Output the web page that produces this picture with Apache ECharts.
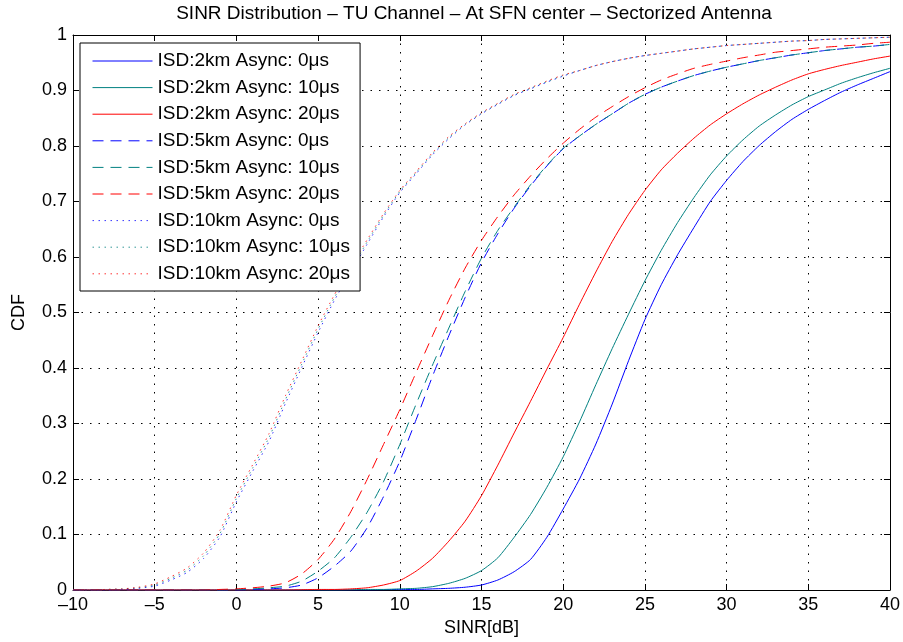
<!DOCTYPE html>
<html><head><meta charset="utf-8">
<script src="https://cdn.jsdelivr.net/npm/echarts@6/dist/echarts.min.js"></script>
<style>html,body{margin:0;padding:0;background:#fff}#c{width:903px;height:642px}</style>
</head><body><div id="c"></div>
<script>
// SINR grid (dB)
const sinr = [-10,-9,-8,-7,-6,-5,-4,-3,-2,-1,0,1,2,3,4,5,6,7,8,9,10,11,12,13,14,15,16,17,18,19,20,21,22,23,24,25,26,27,28,29,30,31,32,33,34,35,36,37,38,39,40];

// ISD 2 km (solid)
const isd2_0  = [0,0,0,0,0,0,0,0,0,0,0,0,0,0,0,0,0,0,0,0.0005,0.001,0.001,0.002,0.003,0.005,0.009,0.018,0.033,0.055,0.095,0.146,0.2,0.263,0.335,0.413,0.487,0.55,0.604,0.653,0.7,0.738,0.772,0.801,0.826,0.848,0.866,0.882,0.897,0.91,0.922,0.934];
const isd2_10 = [0,0,0,0,0,0,0,0,0,0,0,0,0,0,0,0,0,0.0005,0.001,0.001,0.002,0.003,0.006,0.012,0.021,0.035,0.058,0.095,0.136,0.185,0.24,0.303,0.37,0.435,0.497,0.557,0.612,0.662,0.707,0.748,0.782,0.811,0.836,0.856,0.874,0.889,0.901,0.913,0.923,0.932,0.94];
const isd2_20 = [0,0,0,0,0,0,0,0,0,0,0,0,0,0,0.0005,0.001,0.001,0.002,0.004,0.009,0.017,0.034,0.057,0.088,0.124,0.17,0.225,0.283,0.34,0.398,0.455,0.515,0.573,0.628,0.677,0.72,0.757,0.787,0.814,0.838,0.858,0.876,0.892,0.906,0.919,0.93,0.938,0.945,0.951,0.957,0.962];

// ISD 5 km (dashed)
const isd5_0  = [0,0,0,0,0,0,0,0,0,0,0,0.001,0.002,0.004,0.009,0.022,0.043,0.07,0.112,0.168,0.232,0.307,0.385,0.458,0.527,0.59,0.642,0.688,0.728,0.764,0.795,0.818,0.839,0.858,0.877,0.893,0.906,0.917,0.927,0.935,0.942,0.948,0.954,0.959,0.964,0.968,0.972,0.975,0.978,0.98,0.983];
const isd5_10 = [0,0,0,0,0,0,0,0,0,0,0.001,0.002,0.004,0.007,0.016,0.034,0.058,0.095,0.14,0.195,0.262,0.335,0.405,0.472,0.538,0.598,0.648,0.69,0.73,0.765,0.796,0.818,0.839,0.858,0.877,0.893,0.906,0.917,0.927,0.935,0.942,0.948,0.954,0.959,0.964,0.968,0.972,0.975,0.978,0.98,0.983];
const isd5_20 = [0,0,0,0,0,0,0,0,0,0.001,0.002,0.004,0.007,0.013,0.029,0.055,0.092,0.141,0.199,0.262,0.325,0.392,0.458,0.522,0.58,0.63,0.673,0.712,0.746,0.777,0.805,0.83,0.852,0.871,0.889,0.905,0.919,0.93,0.94,0.947,0.953,0.959,0.964,0.969,0.972,0.975,0.978,0.98,0.982,0.985,0.987];

// ISD 10 km (dotted)
const isd10_0  = [0,0,0,0.001,0.003,0.007,0.018,0.032,0.057,0.096,0.159,0.214,0.268,0.336,0.401,0.464,0.522,0.573,0.623,0.672,0.716,0.75,0.784,0.813,0.838,0.858,0.875,0.891,0.903,0.915,0.926,0.936,0.945,0.952,0.958,0.963,0.967,0.971,0.975,0.978,0.981,0.983,0.985,0.987,0.989,0.99,0.992,0.993,0.994,0.995,0.996];
const isd10_10 = [0,0,0.001,0.002,0.004,0.009,0.021,0.036,0.062,0.102,0.165,0.22,0.275,0.343,0.407,0.47,0.527,0.578,0.627,0.675,0.718,0.752,0.786,0.815,0.839,0.859,0.876,0.892,0.904,0.916,0.927,0.936,0.945,0.952,0.958,0.963,0.967,0.971,0.975,0.978,0.981,0.983,0.985,0.987,0.989,0.99,0.992,0.993,0.994,0.995,0.996];
const isd10_20 = [0,0,0.001,0.002,0.005,0.011,0.024,0.04,0.067,0.108,0.171,0.226,0.282,0.35,0.413,0.476,0.532,0.583,0.631,0.678,0.72,0.754,0.788,0.817,0.84,0.86,0.877,0.893,0.905,0.917,0.928,0.936,0.945,0.952,0.958,0.963,0.967,0.971,0.975,0.978,0.981,0.983,0.985,0.987,0.989,0.99,0.992,0.993,0.994,0.995,0.996];

const names = ['ISD:2km Async: 0\u03bcs','ISD:2km Async: 10\u03bcs','ISD:2km Async: 20\u03bcs',
               'ISD:5km Async: 0\u03bcs','ISD:5km Async: 10\u03bcs','ISD:5km Async: 20\u03bcs',
               'ISD:10km Async: 0\u03bcs','ISD:10km Async: 10\u03bcs','ISD:10km Async: 20\u03bcs'];
const values = [isd2_0, isd2_10, isd2_20, isd5_0, isd5_10, isd5_20, isd10_0, isd10_10, isd10_20];
const xTicks = [-10,-5,0,5,10,15,20,25,30,35,40];

const colors = ['#0000ff','#008080','#ff0000'];
const dashes = ['solid',[11,7],[1.5,4.5]];
const FONT = 'Liberation Sans';

const series = values.map((vals, i) => ({
  name: names[i],
  type: 'line',
  data: sinr.map((x, j) => [x, vals[j]]),
  showSymbol: false,
  symbol: 'none',
  symbolSize: 0,
  smooth: 0.2,
  lineStyle: { color: colors[i % 3], width: 1, type: dashes[Math.floor(i / 3)], opacity: i >= 6 ? 0.8 : 1 },
  itemStyle: { color: colors[i % 3] },
  z: 2 + i * 0.01
}));

const fmtX = v => v < 0 ? '\u2013' + (-v) : String(v);
const gridLine = { show: true, lineStyle: { color: '#000', type: [1.5, 7], width: 1 } };
const axLine = { show: true, onZero: false, lineStyle: { color: '#000', width: 1 } };
const tick = { show: true, inside: true, length: 6, lineStyle: { color: '#000' } };

const chart = echarts.init(document.getElementById('c'), null, { renderer: 'canvas' });
chart.setOption({
  animation: false,
  backgroundColor: '#fff',
  textStyle: { fontFamily: FONT },
  title: {
    text: 'SINR Distribution \u2013 TU Channel \u2013 At SFN center \u2013 Sectorized Antenna',
    left: 474, top: 4, textAlign: 'center', padding: 0,
    textStyle: { fontFamily: FONT, fontSize: 19, fontWeight: 'normal', color: '#000' }
  },
  grid: { left: 73, right: 13, top: 35, bottom: 49, containLabel: false },
  legend: {
    orient: 'vertical', left: 80, top: 43,
    padding: [8.5, 10, 7.7, 12],
    itemWidth: 60, itemHeight: 19, itemGap: 7.6,
    itemStyle: { opacity: 0 },
    lineStyle: { width: 1 },
    backgroundColor: '#fff', borderColor: '#000', borderWidth: 1,
    textStyle: { fontFamily: FONT, fontSize: 19, color: '#000' },
    data: names, z: 10
  },
  xAxis: [{
    type: 'value', min: -10, max: 40, interval: 5, position: 'bottom',
    name: 'SINR[dB]', nameLocation: 'middle', nameGap: 29,
    nameTextStyle: { fontFamily: FONT, fontSize: 18, color: '#000' },
    axisLine: axLine, axisTick: tick, splitLine: gridLine,
    axisLabel: { formatter: fmtX, fontFamily: FONT, fontSize: 18, color: '#000', margin: 6 }
  }, {
    type: 'value', min: -10, max: 40, interval: 5, position: 'top',
    axisLine: axLine, axisTick: tick, splitLine: { show: false }, axisLabel: { show: false }
  }],
  yAxis: [{
    type: 'value', min: 0, max: 1, interval: 0.1, position: 'left',
    name: 'CDF', nameLocation: 'middle', nameGap: 45, nameRotate: 90,
    nameTextStyle: { fontFamily: FONT, fontSize: 18, color: '#000' },
    axisLine: axLine, axisTick: tick, splitLine: gridLine,
    axisLabel: { formatter: v => String(Math.round(v * 10) / 10), fontFamily: FONT, fontSize: 18, color: '#000', margin: 6 }
  }, {
    type: 'value', min: 0, max: 1, interval: 0.1, position: 'right',
    axisLine: axLine, axisTick: tick, splitLine: { show: false }, axisLabel: { show: false }
  }],
  series: series
});
</script>
</body></html>
